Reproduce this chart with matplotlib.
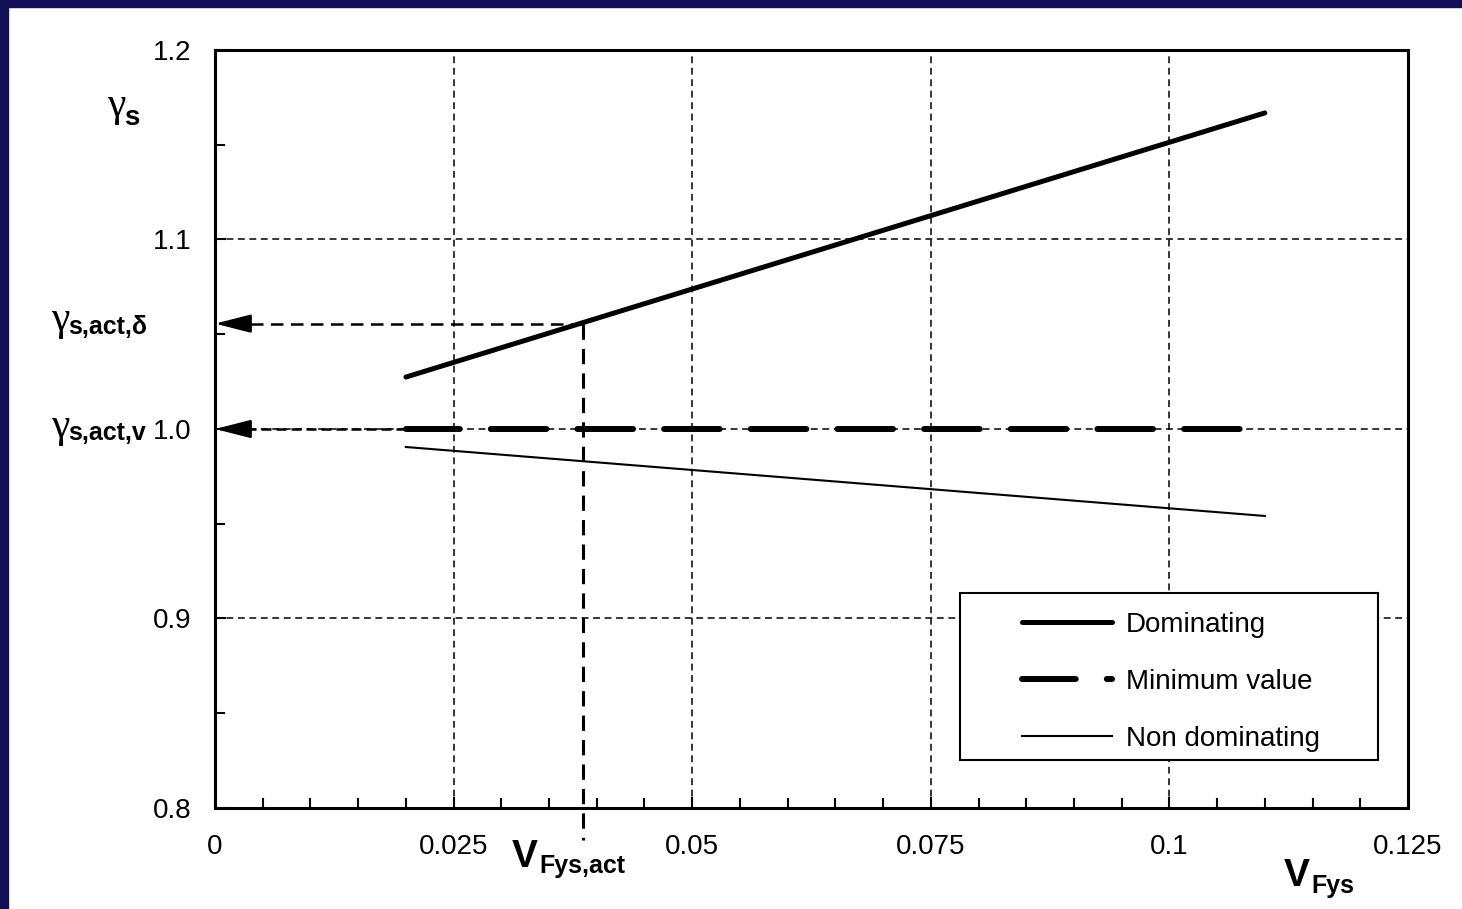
import matplotlib
matplotlib.use("Agg")
import matplotlib.pyplot as plt
from matplotlib.ticker import MultipleLocator, FixedLocator
from matplotlib.patches import Rectangle

plt.rcParams['font.family'] = ['Liberation Sans', 'DejaVu Sans']

# --- data ---
v_dom = [0.02, 0.11]
gamma_dom = [1.0274, 1.1668]

v_min = [0.02, 0.11]
gamma_min = [1.0, 1.0]

v_nondom = [0.02, 0.11]
gamma_nondom = [0.9905, 0.9541]

v_act = 0.0386
gamma_act_delta = 1.0556
gamma_act_v = 1.0
v_min_start = 0.02

x_ticks = [0, 0.025, 0.05, 0.075, 0.1, 0.125]
x_ticklabels = ['0', '0.025', '0.05', '0.075', '0.1', '0.125']
y_ticks = [0.8, 0.9, 1.0, 1.1, 1.2]
y_ticklabels = ['0.8', '0.9', '1.0', '1.1', '1.2']

W, H = 1462, 909
fig = plt.figure(figsize=(W / 100, H / 100), dpi=100)
fig.patch.set_facecolor('white')

# navy frame at left / top edge
navy = '#110F55'
fig.patches.append(Rectangle((0, 0), 8 / W, 1, transform=fig.transFigure, color=navy, zorder=0))
fig.patches.append(Rectangle((0, 1 - 7 / H), 1, 7 / H, transform=fig.transFigure, color=navy, zorder=0))

ax = fig.add_axes([215 / W, 1 - 808 / H, (1408 - 215) / W, (808 - 50) / H])
ax.set_xlim(0, 0.125)
ax.set_ylim(0.8, 1.2)

ax.xaxis.set_major_locator(FixedLocator(x_ticks))
ax.set_xticklabels(x_ticklabels)
ax.yaxis.set_major_locator(FixedLocator(y_ticks))
ax.set_yticklabels(y_ticklabels)
ax.xaxis.set_minor_locator(MultipleLocator(0.005))
ax.yaxis.set_minor_locator(MultipleLocator(0.05))
ax.tick_params(which='both', direction='in', top=False, right=False, width=1.5, colors='black')
ax.tick_params(which='major', length=8, labelsize=20)
ax.tick_params(axis='x', which='major', pad=19)
ax.tick_params(axis='y', which='major', pad=17)
ax.tick_params(which='minor', length=7)

ax.grid(True, which='major', color='black', lw=1.1, ls=(0, (4.5, 3)))
for s in ['left', 'bottom']:
    ax.spines[s].set_linewidth(2.2)
for s in ['top', 'right']:
    ax.spines[s].set_linewidth(2.2)
    ax.spines[s].set_linestyle((0, (6, 0.8)))

# curves
ax.plot(v_dom, gamma_dom, color='black', lw=3.6, solid_capstyle='round', label='Dominating', zorder=3)
ax.plot(v_min, gamma_min, color='black', lw=4.3, ls=(0, (9, 5.2, 0.01, 0.3)),
        dash_capstyle='round', label='Minimum value', zorder=3)
ax.plot(v_nondom, gamma_nondom, color='black', lw=1.5, label='Non dominating', zorder=3)

# reading lines with arrows
ax.plot([v_act, 0.003], [gamma_act_delta, gamma_act_delta], color='black', lw=1.8,
        ls=(0, (5, 3)), zorder=3)
ax.plot([v_act, v_act], [gamma_act_delta, 0.783], color='black', lw=2.2,
        ls=(0, (5, 3)), zorder=3, clip_on=False)
ax.plot([v_min_start, 0.003], [gamma_act_v, gamma_act_v], color='black', lw=1.8,
        ls=(0, (4, 2)), zorder=3)
for yy in [gamma_act_delta, gamma_act_v]:
    ax.annotate('', xy=(0, yy), xytext=(0.0035, yy),
                arrowprops=dict(arrowstyle='-|>,head_length=1.1,head_width=0.28',
                                color='black', lw=1.8, shrinkA=0, shrinkB=0,
                                mutation_scale=20), zorder=4)

# legend box drawn separately, legend entries on top
ax.add_patch(Rectangle((0.6245, 0.0633), 0.3504, 0.2203, transform=ax.transAxes,
                       facecolor='white', edgecolor='black', lw=1.5, zorder=4.5))
ax.legend(loc='upper left', bbox_to_anchor=(0.6765, 0.2586), frameon=False,
          fontsize=20, handlelength=3.24, handletextpad=0.5, labelspacing=1.11,
          borderpad=0, borderaxespad=0)

# labels (gamma symbol + bold subscript as separate texts)
def fx(px):
    return px / W

def fy(py):
    return 1 - py / H

def gamma_label(x, y, sub, x_sub, y_sub, sub_size=18):
    fig.text(fx(x), fy(y), '\u03b3', fontsize=30, family='Liberation Serif',
             ha='left', va='baseline')
    fig.text(fx(x_sub), fy(y_sub), sub, fontsize=sub_size, fontweight='bold',
             ha='left', va='baseline')

gamma_label(107, 116, 's', 124, 125, sub_size=20)
gamma_label(51, 330, 's,act,\u03b4', 68, 334)
gamma_label(51, 437, 's,act,v', 68, 440)

fig.text(fx(512), fy(867), 'V', fontsize=28, fontweight='bold', ha='left', va='baseline')
fig.text(fx(539), fy(873), 'Fys,act', fontsize=18, fontweight='bold', ha='left', va='baseline')
fig.text(fx(1284), fy(886), 'V', fontsize=28, fontweight='bold', ha='left', va='baseline')
fig.text(fx(1311), fy(893), 'Fys', fontsize=18, fontweight='bold', ha='left', va='baseline')

fig.savefig('out.png', dpi=100)
